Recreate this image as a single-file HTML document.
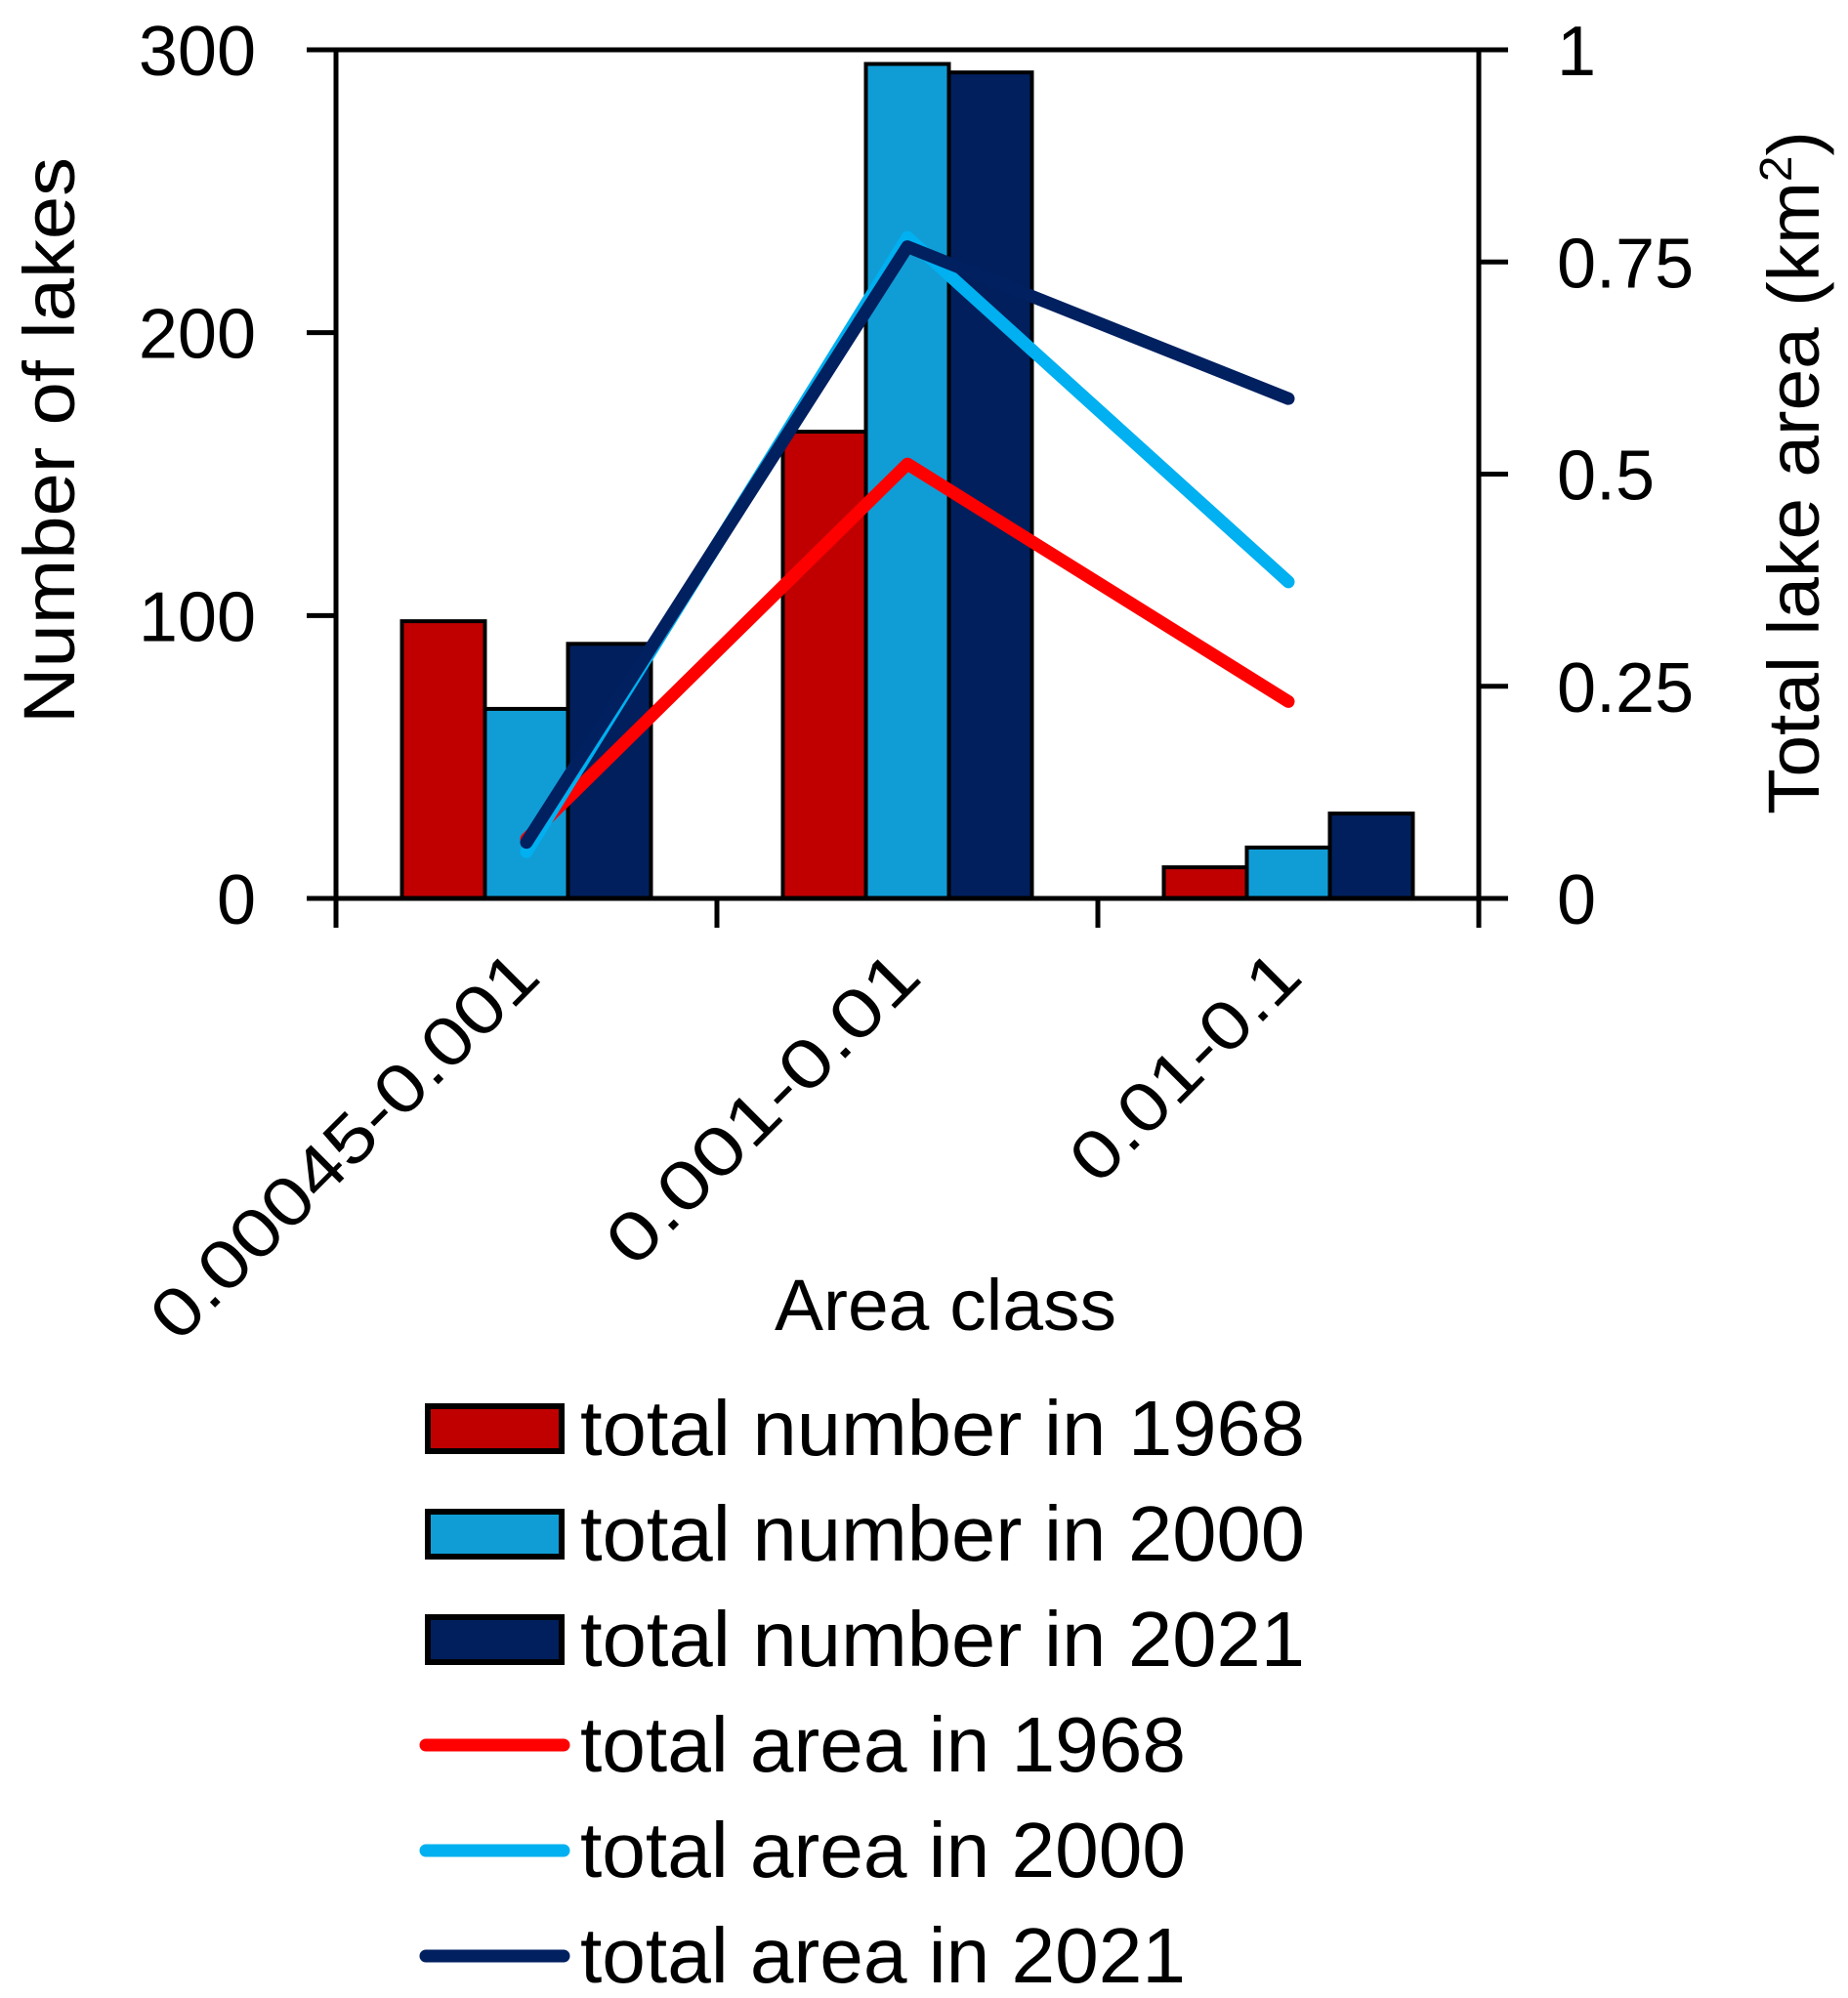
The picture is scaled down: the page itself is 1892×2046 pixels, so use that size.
<!DOCTYPE html>
<html><head><meta charset="utf-8"><style>
html,body{margin:0;padding:0;background:#fff;}
svg{display:block;font-family:"Liberation Sans",sans-serif;}
</style></head><body>
<svg id="chart" width="1892" height="2046" viewBox="0 0 1892 2046" xmlns="http://www.w3.org/2000/svg"></svg>
<script>
const categories = ["0.00045-0.001", "0.001-0.01", "0.01-0.1"];
const num1968 = [98, 165, 11];
const num2000 = [67, 295, 18];
const num2021 = [90, 292, 30];
const area1968 = [0.07, 0.512, 0.232];
const area2000 = [0.055, 0.779, 0.373];
const area2021 = [0.066, 0.768, 0.589];
const leftTicks = [0, 100, 200, 300];
const rightTicks = [0, 0.25, 0.5, 0.75, 1];
const rightTickLabels = ["0", "0.25", "0.5", "0.75", "1"];
const legendLabels = ["total number in 1968","total number in 2000","total number in 2021","total area in 1968","total area in 2000","total area in 2021"];

const NS = "http://www.w3.org/2000/svg";
const svg = document.getElementById("chart");
const L = 344, R = 1514, T = 51, B = 920;
const groupW = (R - L) / categories.length;
const barW = 85;
const yL = v => B - v / 300 * (B - T);
const yR = v => B - v / 1 * (B - T);
const xC = i => L + groupW * (i + 0.5);
function mk(tag, attrs, parent) {
  const e = document.createElementNS(NS, tag);
  for (const k in attrs) e.setAttribute(k, attrs[k]);
  (parent || svg).appendChild(e);
  return e;
}
const barColors = ["#c00000", "#109dd6", "#001f5c"];
const lineColors = ["#ff0000", "#00b0f0", "#002060"];
const numSeries = [num1968, num2000, num2021];
const areaSeries = [area1968, area2000, area2021];

numSeries.forEach((s, si) => {
  s.forEach((v, i) => {
    const x = xC(i) + (si - 1.5) * barW;
    const r = mk("rect", {x: x, y: yL(v), width: barW, height: B - yL(v), fill: barColors[si], stroke: "#000", "stroke-width": 4});
    
    
  });
});

const ax = mk("g", {stroke: "#000", "stroke-width": 5, fill: "none"});


mk("line", {x1: L, y1: T - 2, x2: L, y2: B + 30}, ax);
mk("line", {x1: R, y1: T - 2, x2: R, y2: B + 30}, ax);
mk("line", {x1: L - 30, y1: B, x2: R + 30, y2: B}, ax);
mk("line", {x1: L - 30, y1: T, x2: R + 30, y2: T}, ax);
leftTicks.forEach(v => mk("line", {x1: L - 30, y1: yL(v), x2: L, y2: yL(v)}, ax));
rightTicks.forEach(v => mk("line", {x1: R, y1: yR(v), x2: R + 30, y2: yR(v)}, ax));
for (let i = 1; i < categories.length; i++) mk("line", {x1: L + groupW * i, y1: B, x2: L + groupW * i, y2: B + 30}, ax);

areaSeries.forEach((s, si) => {
  const pts = s.map((v, i) => xC(i) + "," + yR(v)).join(" ");
  const p = mk("polyline", {points: pts, fill: "none", stroke: lineColors[si], "stroke-width": 13, "stroke-linecap": "round", "stroke-linejoin": "round"});
  
  
});

leftTicks.forEach(v => {
  const t = mk("text", {x: 262, y: yL(v) + 26, "font-size": 72, "text-anchor": "end"});
  t.textContent = v;
  
  
});
rightTicks.forEach((v, i) => {
  const t = mk("text", {x: 1594, y: yR(v) + 26, "font-size": 72});
  t.textContent = rightTickLabels[i];
  
  
});
const catLens = [528, 420, 300];
categories.forEach((c, i) => {
  const x = xC(i) + 17, y = 1003;
  const t = mk("text", {x: x, y: y, "font-size": 70, "text-anchor": "end", transform: "rotate(-45 " + x + " " + y + ")", textLength: catLens[i], lengthAdjust: "spacingAndGlyphs"});
  t.textContent = c;
  
  
});

let t = mk("text", {x: 968, y: 1362, "font-size": 74, "text-anchor": "middle", textLength: 350, lengthAdjust: "spacingAndGlyphs"});
t.textContent = "Area class";


t = mk("text", {x: 0, y: 0, "font-size": 74, "text-anchor": "middle", transform: "translate(76 451) rotate(-90)", textLength: 580, lengthAdjust: "spacingAndGlyphs"});
t.textContent = "Number of lakes";


t = mk("text", {x: 0, y: 0, "font-size": 74, "text-anchor": "middle", transform: "translate(1862 484) rotate(-90)", textLength: 700, lengthAdjust: "spacingAndGlyphs"});
t.innerHTML = 'Total lake area (km<tspan font-size="46" dy="-28">2</tspan><tspan dy="28">)</tspan>';



const legY = [1463, 1571, 1679, 1787, 1895, 2003];
const legLens = [742, 742, 742, 620, 620, 620];
legendLabels.forEach((lab, i) => {
  const g = mk("g", {});
  
  
  if (i < 3) mk("rect", {x: 438, y: legY[i] - 23, width: 137, height: 46, fill: barColors[i], stroke: "#000", "stroke-width": 6}, g);
  else mk("line", {x1: 436, y1: legY[i], x2: 577, y2: legY[i], stroke: lineColors[i - 3], "stroke-width": 13, "stroke-linecap": "round"}, g);
  const tx = mk("text", {x: 594, y: legY[i] + 27, "font-size": 80, textLength: legLens[i], lengthAdjust: "spacingAndGlyphs"}, g);
  tx.textContent = lab;
});
</script>
</body></html>
